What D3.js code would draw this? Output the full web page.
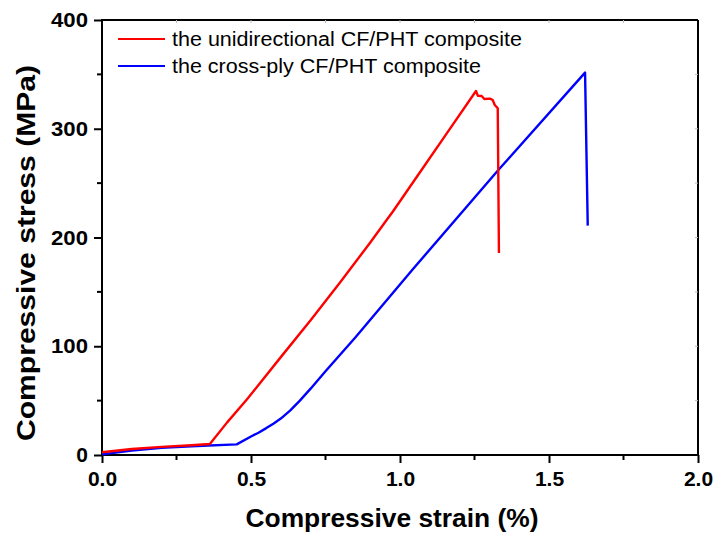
<!DOCTYPE html>
<html>
<head>
<meta charset="utf-8">
<script src="https://cdn.jsdelivr.net/npm/d3@7"></script>
<style>
  body { margin: 0; background: #fff; }
  text { font-family: "Liberation Sans", Arial, sans-serif; }
</style>
</head>
<body>
<script>
// chart size
var width = 718,
    height = 541;

// plot area edges
var margin = {left: 102, top: 20, right: 20, bottom: 86};

// series names
var seriesNames = ['the unidirectional CF/PHT composite', 'the cross-ply CF/PHT composite'];
var seriesColors = ['#ff0000', '#0000ff'];

// unidirectional curve (strain %, stress MPa)
var uniStrain = [0, 0.1, 0.2, 0.3, 0.362, 0.42, 0.486, 0.6, 0.7, 0.8, 0.899, 0.96, 0.975, 1.067, 1.15, 1.255,
                 1.261, 1.274, 1.283, 1.302, 1.311, 1.318, 1.328, 1.332];
var uniStress = [2.5, 5.5, 7.5, 9, 10.1, 30, 51, 90, 124, 159, 195, 218, 223.5, 260, 293, 334.7,
                 330.4, 330.1, 327.4, 327.7, 326.4, 321.8, 318.8, 185.7];

// cross-ply curve (strain %, stress MPa)
var crossStrain = [0, 0.1, 0.2, 0.3, 0.452, 0.5, 0.525, 0.55, 0.575, 0.6, 0.632, 0.664, 0.7, 0.75, 0.85, 1.043, 1.33, 1.621, 1.63];
var crossStress = [0.6, 4, 6.7, 8, 9.8, 17, 20.5, 24.5, 28.8, 33.5, 41, 50, 61, 77, 108, 170.8, 262, 351.6, 210.9];

// tick values
var xTicks = [0, 0.5, 1.0, 1.5, 2.0];
var yTicks = [0, 100, 200, 300, 400];

var svg = d3.select('body')
  .append('svg')
  .attr('width', width)
  .attr('height', height);

var x = d3.scaleLinear()
  .domain([0, 2])
  .range([margin.left, width - margin.right]);

var y = d3.scaleLinear()
  .domain([0, 400])
  .range([height - margin.bottom, margin.top]);

// frame on top and right
svg.append('line')
  .attr('x1', x(0)).attr('x2', x(2))
  .attr('y1', y(400)).attr('y2', y(400))
  .attr('stroke', '#000').attr('stroke-width', 2);
svg.append('line')
  .attr('x1', x(2)).attr('x2', x(2))
  .attr('y1', y(0)).attr('y2', y(400))
  .attr('stroke', '#000').attr('stroke-width', 2);

// faint inner ticks on top and right
svg.append('g')
  .selectAll('line')
  .data(d3.range(0.25, 2, 0.25))
  .enter()
  .append('line')
  .attr('x1', function(d) { return x(d); })
  .attr('x2', function(d) { return x(d); })
  .attr('y1', y(400))
  .attr('y2', y(400) + 3)
  .attr('stroke', '#bbb');
svg.append('g')
  .selectAll('line')
  .data(d3.range(50, 400, 50))
  .enter()
  .append('line')
  .attr('x1', x(2))
  .attr('x2', x(2) - 3)
  .attr('y1', function(d) { return y(d); })
  .attr('y2', function(d) { return y(d); })
  .attr('stroke', '#bbb');

// bottom axis
var xAxis = svg.append('g')
  .attr('transform', 'translate(0,' + y(0) + ')')
  .call(d3.axisBottom(x).tickValues(xTicks).tickFormat(d3.format('.1f')).tickSize(8).tickPadding(8));
xAxis.append('g')
  .selectAll('line')
  .data([0.25, 0.75, 1.25, 1.75])
  .enter()
  .append('line')
  .attr('x1', function(d) { return x(d); })
  .attr('x2', function(d) { return x(d); })
  .attr('y1', 0)
  .attr('y2', 5)
  .attr('stroke', '#000')
  .attr('stroke-width', 2);

// left axis
var yAxis = svg.append('g')
  .attr('transform', 'translate(' + x(0) + ',0)')
  .call(d3.axisLeft(y).tickValues(yTicks).tickFormat(d3.format('d')).tickSize(8).tickPadding(6));
yAxis.append('g')
  .selectAll('line')
  .data([50, 150, 250, 350])
  .enter()
  .append('line')
  .attr('x1', 0)
  .attr('x2', -5)
  .attr('y1', function(d) { return y(d); })
  .attr('y2', function(d) { return y(d); })
  .attr('stroke', '#000')
  .attr('stroke-width', 2);

xAxis.select('.domain').remove();
yAxis.select('.domain').remove();
svg.append('line')
  .attr('x1', x(0)).attr('x2', x(2))
  .attr('y1', y(0)).attr('y2', y(0))
  .attr('stroke', '#000').attr('stroke-width', 2);
svg.append('line')
  .attr('x1', x(0)).attr('x2', x(0))
  .attr('y1', y(0) + 1).attr('y2', y(400) - 1)
  .attr('stroke', '#000').attr('stroke-width', 2);

svg.selectAll('.tick line').attr('stroke-width', 2);
xAxis.selectAll('.tick text')
  .style('font-size', '21px')
  .style('font-weight', 'bold')
  .attr('fill', '#000');
yAxis.selectAll('.tick text')
  .style('font-size', '21px')
  .style('font-weight', 'bold')
  .attr('fill', '#000')
  .attr('textLength', function(d) { return d === 0 ? null : 37; })
  .attr('lengthAdjust', 'spacingAndGlyphs');

// curves
var uniData = uniStrain.map(function(d, i) { return [d, uniStress[i]]; });
var crossData = crossStrain.map(function(d, i) { return [d, crossStress[i]]; });

var line = d3.line()
  .x(function(d) { return x(d[0]); })
  .y(function(d) { return y(d[1]); });

svg.append('path')
  .datum(crossData)
  .attr('d', line)
  .attr('fill', 'none')
  .attr('stroke', seriesColors[1])
  .attr('stroke-width', 2.4)
  .attr('stroke-linejoin', 'round');

svg.append('path')
  .datum(uniData)
  .attr('d', line)
  .attr('fill', 'none')
  .attr('stroke', seriesColors[0])
  .attr('stroke-width', 2.4)
  .attr('stroke-linejoin', 'round');

// legend
var legend = svg.append('g')
  .attr('transform', 'translate(118, 39)');
seriesNames.forEach(function(name, i) {
  legend.append('line')
    .attr('x1', 0).attr('x2', 47)
    .attr('y1', i * 27).attr('y2', i * 27)
    .attr('stroke', seriesColors[i])
    .attr('stroke-width', 2);
  legend.append('text')
    .attr('x', 54)
    .attr('y', i * 27 + 7)
    .attr('textLength', i === 0 ? 350 : 309)
    .attr('lengthAdjust', 'spacingAndGlyphs')
    .style('font-size', '20px')
    .text(name);
});

// axis titles
svg.append('text')
  .attr('x', 392)
  .attr('y', 527)
  .attr('text-anchor', 'middle')
  .attr('textLength', 293)
  .attr('lengthAdjust', 'spacingAndGlyphs')
  .style('font-size', '25px')
  .style('font-weight', 'bold')
  .text('Compressive strain (%)');

svg.append('text')
  .attr('transform', 'translate(35,' + 253 + ') rotate(-90)')
  .attr('text-anchor', 'middle')
  .attr('textLength', 376)
  .attr('lengthAdjust', 'spacingAndGlyphs')
  .style('font-size', '26px')
  .style('font-weight', 'bold')
  .text('Compressive stress (MPa)');
</script>
</body>
</html>
